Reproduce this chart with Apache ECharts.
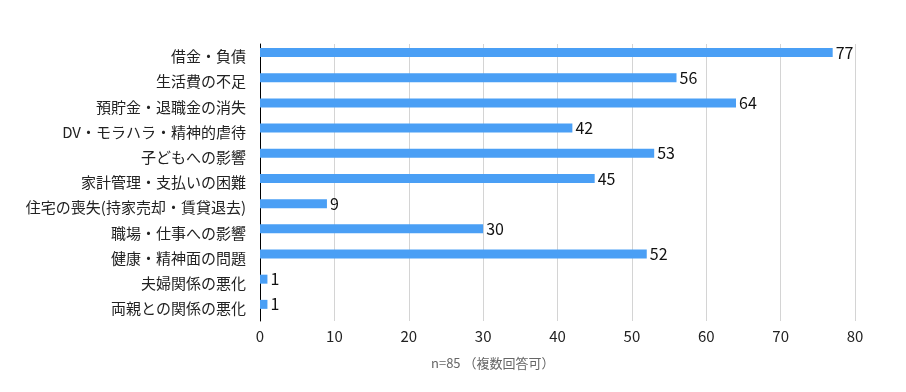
<!DOCTYPE html>
<html>
<head>
<meta charset="utf-8">
<script src="https://cdn.jsdelivr.net/npm/echarts@6/dist/echarts.min.js"></script>
<style>html,body{margin:0;padding:0;background:#fff;}#c{width:906px;height:392px;}</style>
</head>
<body>
<div id="c"></div>
<script>
const categories = ['借金・負債','生活費の不足','預貯金・退職金の消失','DV・モラハラ・精神的虐待','子どもへの影響','家計管理・支払いの困難','住宅の喪失(持家売却・賃貸退去)','職場・仕事への影響','健康・精神面の問題','夫婦関係の悪化','両親との関係の悪化'];
const values = [77, 56, 64, 42, 53, 45, 9, 30, 52, 1, 1];
const xTicks = { min: 0, max: 80, interval: 10 };
const axisNote = 'n=85 （複数回答可）';

const font = '"Noto Sans CJK JP", "Noto Sans", sans-serif';
const chart = echarts.init(document.getElementById('c'), null, { renderer: 'canvas' });
chart.setOption({
  animation: false,
  grid: { left: 260, right: 51, top: 44, bottom: 71, containLabel: false },
  xAxis: {
    type: 'value', min: xTicks.min, max: xTicks.max, interval: xTicks.interval,
    axisLine: { show: false }, axisTick: { show: false },
    splitLine: { show: true, lineStyle: { color: '#d4d4d4', width: 1 } },
    axisLabel: { color: '#222', fontSize: 15, fontFamily: font, margin: 8 }
  },
  yAxis: {
    type: 'category', data: categories, inverse: true,
    axisLine: { show: true, onZero: false, lineStyle: { color: '#000', width: 1 } },
    axisTick: { show: false },
    axisLabel: { color: '#222', fontSize: 15, fontFamily: font, margin: 14 }
  },
  graphic: [{
    type: 'text', left: 431, top: 357,
    style: { text: axisNote, fontSize: 13, fontFamily: font, fill: '#666' }
  }],
  series: [{
    type: 'bar', data: values, barWidth: 9, barGap: '-10%',
    itemStyle: { color: '#4a9ff5' },
    label: { show: true, position: 'right', distance: 3, color: '#111', fontSize: 16, fontFamily: font }
  }, {
    type: 'bar', data: values.map(() => 0), barWidth: 9, silent: true,
    itemStyle: { color: 'rgba(0,0,0,0)' }, label: { show: false }
  }]
});
</script>
</body>
</html>
